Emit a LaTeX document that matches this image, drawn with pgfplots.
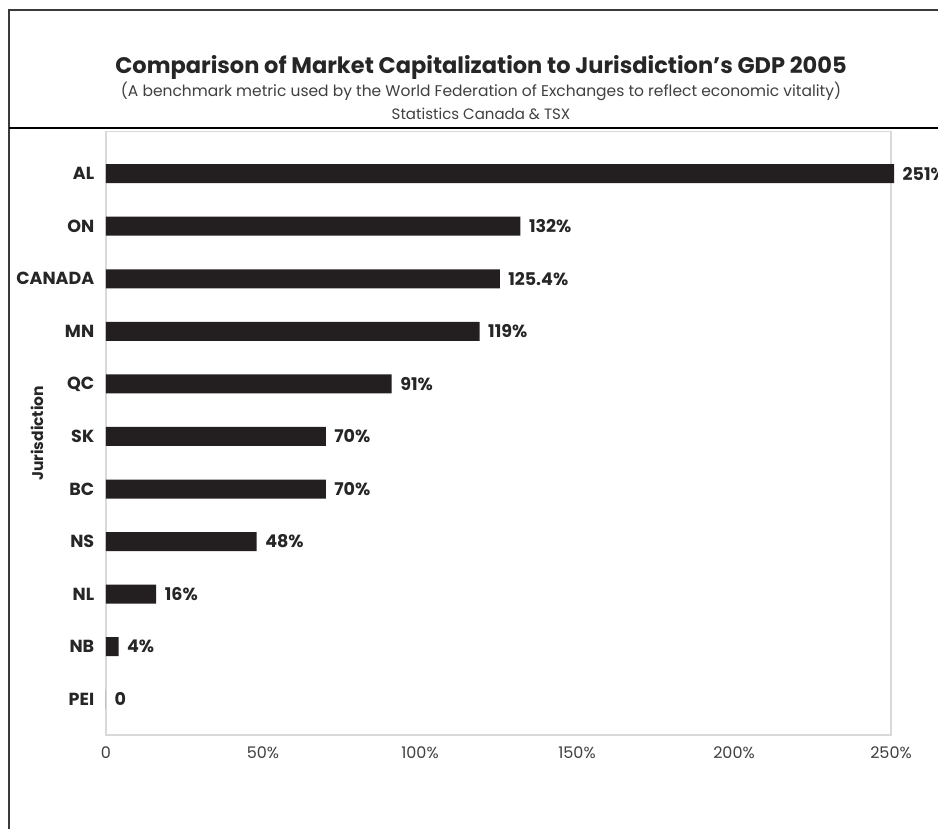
\documentclass[border=0pt]{standalone}
\usepackage{fontspec}
\setmainfont{Poppins}
\usepackage{pgfplots}
\pgfplotsset{compat=1.18}
\definecolor{barc}{HTML}{231F20}
\definecolor{txt}{HTML}{262626}
\definecolor{tickc}{HTML}{404040}
\definecolor{gridc}{HTML}{D9D9D9}
\definecolor{framec}{HTML}{3A3A3A}
\begin{document}
\begin{tikzpicture}[x=1pt,y=1pt]
\useasboundingbox (0,0) rectangle (938,829);
\fill[white] (0,0) rectangle (938,829);
\begin{axis}[
  at={(106pt,94pt)}, anchor=south west,
  scale only axis, width=785pt, height=603.4pt,
  xbar, bar width=19pt,
  xmin=0, xmax=250, ymin=-0.68, ymax=10.8,
  ytick={0,...,10},
  yticklabels={PEI,NB,NL,NS,BC,SK,QC,MN,CANADA,ON,AL},
  xtick={0,50,100,150,200,250},
  xticklabels={0,50\%,100\%,150\%,200\%,250\%},
  axis line style={gridc, line width=1.3pt},
  tick style={draw=none},
  yticklabel style={font=\bfseries\fontsize{17.5}{19}\selectfont, text=txt, xshift=-4pt},
  xticklabel style={font=\fontsize{16}{18}\selectfont, text=tickc, yshift=-8pt},
  ylabel={Jurisdiction},
  every axis y label/.style={at={(axis description cs:-0.0879,0.5)}, rotate=90, anchor=center, font=\bfseries\fontsize{15.5}{17}\selectfont, text=txt},
  clip=false,
  nodes near coords, point meta=explicit symbolic,
  every node near coord/.append style={font=\bfseries\fontsize{17.5}{19}\selectfont, text=txt, anchor=west, xshift=5pt},
]
\addplot[fill=barc, draw=none] coordinates {
  (0,0) [0]
  (4,1) [4\%]
  (16,2) [16\%]
  (48,3) [48\%]
  (70,4) [70\%]
  (70,5) [70\%]
  (91,6) [91\%]
  (119,7) [119\%]
  (125.4,8) [125.4\%]
  (132,9) [132\%]
  (251,10) [251\%]
};
\end{axis}
\draw[framec, line width=1.8pt] (9,0) -- (9,819) -- (938,819);
\draw[black, line width=2.4pt] (9,701) -- (938,701);
\node[font=\bfseries\fontsize{22.5}{25}\selectfont, text=txt] at (481,762) {Comparison of Market Capitalization to Jurisdiction's GDP 2005};
\node[font=\fontsize{15.5}{17}\selectfont, text=tickc] at (481,738) {(A benchmark metric used by the World Federation of Exchanges to reflect economic vitality)};
\node[font=\fontsize{15}{17}\selectfont, text=tickc] at (481,715) {Statistics Canada \& TSX};
\end{tikzpicture}
\end{document}
